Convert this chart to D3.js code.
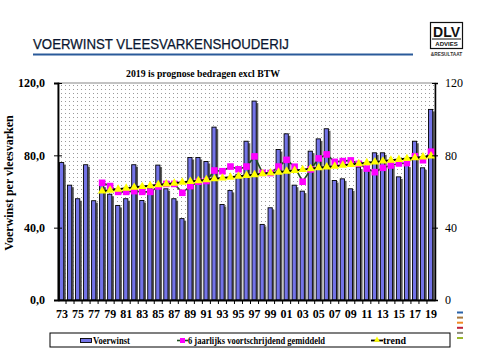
<!DOCTYPE html>
<html><head><meta charset="utf-8">
<script src="https://cdn.jsdelivr.net/npm/d3@7"></script>
<style>body{margin:0;background:#fff}svg{display:block}</style>
</head><body><svg id="c" width="480" height="360"></svg>
<script>
const years = ["73","74","75","76","77","78","79","80","81","82","83","84","85","86","87","88","89","90","91","92","93","94","95","96","97","98","99","00","01","02","03","04","05","06","07","08","09","10","11","12","13","14","15","16","17","18","19"];
const voerwinst = [76,63.5,56,74.8,54.9,63.5,58.5,52.3,56,74.8,55,62,74.6,61.5,56,45,78.8,78.8,76.6,95.6,52.8,60.6,69.5,87.8,110,41.8,51,83.2,91.9,63.5,60.2,82.3,89.1,94.7,66.1,67,61.5,73.5,73.5,81.4,81.4,75.2,68.1,74.6,87.8,73.1,105.4];
const maYears = ["78","79","80","81","82","83","84","85","86","87","88","89","90","91","92","93","94","95","96","97","98","99","00","01","02","03","04","05","06","07","08","09","10","11","12","13","14","15","16","17","18","19"];
const gemiddeld = [64.8,63.0,59.8,59.8,60.2,59.8,59.8,62.8,64.2,64.2,59.3,63.0,65.4,65.8,71.6,71.2,73.8,72.3,73.8,79.4,70.3,70.2,73.8,77.5,73.7,65.4,72.2,78.3,80.5,76.4,76.8,77.2,75.3,72.7,70.7,73.1,74.4,75.5,75.7,79.5,77.3,82.0];
const trend = [60.2,60.7,61.3,61.8,62.3,62.7,63.2,63.7,64.1,64.6,65.1,65.5,66.0,66.5,67.0,67.4,67.9,68.4,68.8,69.3,69.8,70.2,70.7,71.2,71.6,72.1,72.6,73.1,73.5,74.0,74.5,74.9,75.4,75.9,76.3,76.8,77.3,77.7,78.2,78.7,79.1,79.6];
const leftTicks = [0,40,80,120];
const rightTicks = [0,40,80,120];
const xLabels = years.filter((d,i)=>i%2===0);
const legendLabels = ["Voerwinst","6 jaarlijks voortschrijdend gemiddeld","trend"];
const sideColors = ["#2a62a8","#a5773c","#f08a24","#c0223a","#8c8c7c","#9ab82a"];

const svg = d3.select("#c");
const serif = "'Liberation Serif','Times New Roman',serif";
const L=58,R=435,T=83,B=300;
const x = d3.scaleBand().domain(years).range([L,R]).padding(0);
const y = d3.scaleLinear().domain([0,120]).range([B,T]);

// pattern
const defs = svg.append("defs");
const pat = defs.append("pattern").attr("id","dots").attr("width",4).attr("height",4).attr("patternUnits","userSpaceOnUse");
pat.append("rect").attr("width",4).attr("height",4).attr("fill","#fff");
pat.append("rect").attr("x",1).attr("y",1).attr("width",1).attr("height",1).attr("fill","#9a9a9a");

// title
svg.append("text").attr("x",33).attr("y",49).text("VOERWINST VLEESVARKENSHOUDERIJ")
  .attr("font-family","'Liberation Sans Narrow','Arial Narrow','Liberation Sans',Arial,sans-serif")
  .attr("font-size",15).attr("fill","#0a1630").attr("stroke","#0a1630").attr("stroke-width",0.25)
  .attr("textLength",256).attr("lengthAdjust","spacingAndGlyphs");
svg.append("rect").attr("x",33).attr("y",53.5).attr("width",380).attr("height",2).attr("fill","#2a5a9a");

// logo
const lg = svg.append("g");
lg.append("rect").attr("x",430.5).attr("y",22.5).attr("width",32).attr("height",26).attr("fill","#fff").attr("stroke","#111").attr("stroke-width",1.2);
lg.append("text").attr("x",446.5).attr("y",36.5).attr("text-anchor","middle").attr("font-family","'Liberation Sans',Arial,sans-serif").attr("font-weight","bold").attr("font-size",14).attr("fill","#111").text("DLV");
lg.append("line").attr("x1",432).attr("x2",461).attr("y1",39).attr("y2",39).attr("stroke","#111").attr("stroke-width",1);
lg.append("text").attr("x",446.5).attr("y",46).attr("text-anchor","middle").attr("font-family","'Liberation Sans',Arial,sans-serif").attr("font-weight","bold").attr("font-size",6).attr("fill","#111").text("ADVIES");
lg.append("text").attr("x",446.5).attr("y",56).attr("text-anchor","middle").attr("font-family","'Liberation Sans',Arial,sans-serif").attr("font-weight","bold").attr("font-size",4.8).attr("fill","#333").text("&RESULTAAT");

// subtitle
svg.append("text").attr("x",203).attr("y",77).attr("text-anchor","middle").attr("font-family",serif).attr("font-weight","bold").attr("font-size",10).attr("fill","#000").attr("textLength",154).attr("lengthAdjust","spacingAndGlyphs").text("2019 is prognose  bedragen excl BTW");

// plot area
svg.append("rect").attr("x",L).attr("y",T).attr("width",R-L).attr("height",B-T).attr("fill","url(#dots)").attr("stroke","#888").attr("stroke-width",1);

// bars
const bw = x.bandwidth();
svg.append("g").selectAll("rect").data(years).join("rect")
  .attr("x",d=>x(d)+5.8).attr("y",(d,i)=>y(voerwinst[i])+2).attr("width",2).attr("height",(d,i)=>B-y(voerwinst[i])-2).attr("fill","#5a5a5a");
svg.append("g").selectAll("rect").data(years).join("rect")
  .attr("x",d=>x(d)+1.5).attr("y",(d,i)=>y(voerwinst[i])).attr("width",4.2).attr("height",(d,i)=>B-y(voerwinst[i]))
  .attr("fill","#7474e8").attr("stroke","#000").attr("stroke-width",0.9);

// moving average
const cx = d=>x(d)+bw/2;
svg.append("path").datum(maYears).attr("fill","none").attr("stroke","#1d4d1d").attr("stroke-width",1.6)
  .attr("d",d3.line().x(d=>cx(d)).y((d,i)=>y(gemiddeld[i])));
svg.append("g").selectAll("rect").data(maYears).join("rect")
  .attr("x",d=>cx(d)-3.3).attr("y",(d,i)=>y(gemiddeld[i])-3.3).attr("width",6.6).attr("height",6.6).attr("fill","#ff00ff");

// trend
svg.append("path").datum(maYears).attr("fill","none").attr("stroke","#000").attr("stroke-width",2)
  .attr("d",d3.line().x(d=>cx(d)).y((d,i)=>y(trend[i])));
const tri = d3.symbol().type(d3.symbolTriangle).size(32);
svg.append("g").selectAll("path").data(maYears).join("path")
  .attr("transform",(d,i)=>`translate(${cx(d)},${y(trend[i])})`).attr("d",tri).attr("fill","#ffff00");

// axes
const gl = svg.append("g").attr("transform",`translate(${L},0)`)
  .call(d3.axisLeft(y).tickValues(leftTicks).tickSize(4).tickPadding(9).tickFormat(d=>d.toFixed(1).replace(".",",")));
gl.selectAll(".tick").append("line").attr("x2",4).attr("stroke","#000");
gl.select(".domain").attr("stroke-width",1.8);
gl.selectAll("text").attr("font-family",serif).attr("font-weight","bold").attr("font-size",12).attr("fill","#000");

const gr = svg.append("g").attr("transform",`translate(${R},0)`)
  .call(d3.axisRight(y).tickValues(rightTicks).tickSize(3).tickPadding(7));
gr.selectAll(".tick").append("line").attr("x2",-3).attr("stroke","#000");
gr.select(".domain").attr("stroke-width",1.5);
gr.selectAll("text").attr("font-family",serif).attr("font-size",12).attr("fill","#000");

const gb = svg.append("g").attr("transform",`translate(0,${B})`)
  .call(d3.axisBottom(x).tickValues(xLabels).tickSize(0).tickPadding(9));
gb.select(".domain").attr("stroke-width",1.8);
gb.selectAll("text").attr("font-family",serif).attr("font-weight","bold").attr("font-size",12).attr("fill","#000");
svg.append("g").selectAll("line").data(years.slice(1)).join("line")
  .attr("x1",d=>x(d)).attr("x2",d=>x(d)).attr("y1",B).attr("y2",B+4).attr("stroke","#000").attr("stroke-width",1);

// y label
svg.append("text").attr("transform","translate(13,183) rotate(-90)").attr("text-anchor","middle")
  .attr("font-family",serif).attr("font-weight","bold").attr("font-size",12).attr("fill","#000").text("Voerwinst per vleesvarken");

// legend
const lgd = svg.append("g");
lgd.append("rect").attr("x",50).attr("y",333).attr("width",400).attr("height",14).attr("fill","#fff").attr("stroke","#000").attr("stroke-width",1);
lgd.append("rect").attr("x",80.5).attr("y",338.5).attr("width",11).attr("height",4).attr("fill","#7474e8").attr("stroke","#000").attr("stroke-width",0.9);
lgd.append("line").attr("x1",177).attr("x2",188).attr("y1",340.5).attr("y2",340.5).attr("stroke","#1d4d1d").attr("stroke-width",1.6);
lgd.append("rect").attr("x",180).attr("y",338).attr("width",5).attr("height",5).attr("fill","#ff00ff");
lgd.append("line").attr("x1",371).attr("x2",383).attr("y1",340.5).attr("y2",340.5).attr("stroke","#000").attr("stroke-width",1.8);
lgd.append("path").attr("transform","translate(377,340)").attr("d",d3.symbol().type(d3.symbolTriangle).size(16)).attr("fill","#ffff00");
const lt = [[93,37],[188,137],[383,23]];
lgd.selectAll("text").data(legendLabels).join("text")
  .attr("x",(d,i)=>lt[i][0]).attr("y",343.5).attr("font-family",serif).attr("font-weight","bold").attr("font-size",9.5)
  .attr("textLength",(d,i)=>lt[i][1]).attr("lengthAdjust","spacingAndGlyphs").attr("fill","#000").text(d=>d);

// side dashes
svg.append("g").selectAll("rect").data(sideColors).join("rect")
  .attr("x",457).attr("y",(d,i)=>311.5+i*5.1).attr("width",6).attr("height",2).attr("fill",d=>d);
</script></body></html>
